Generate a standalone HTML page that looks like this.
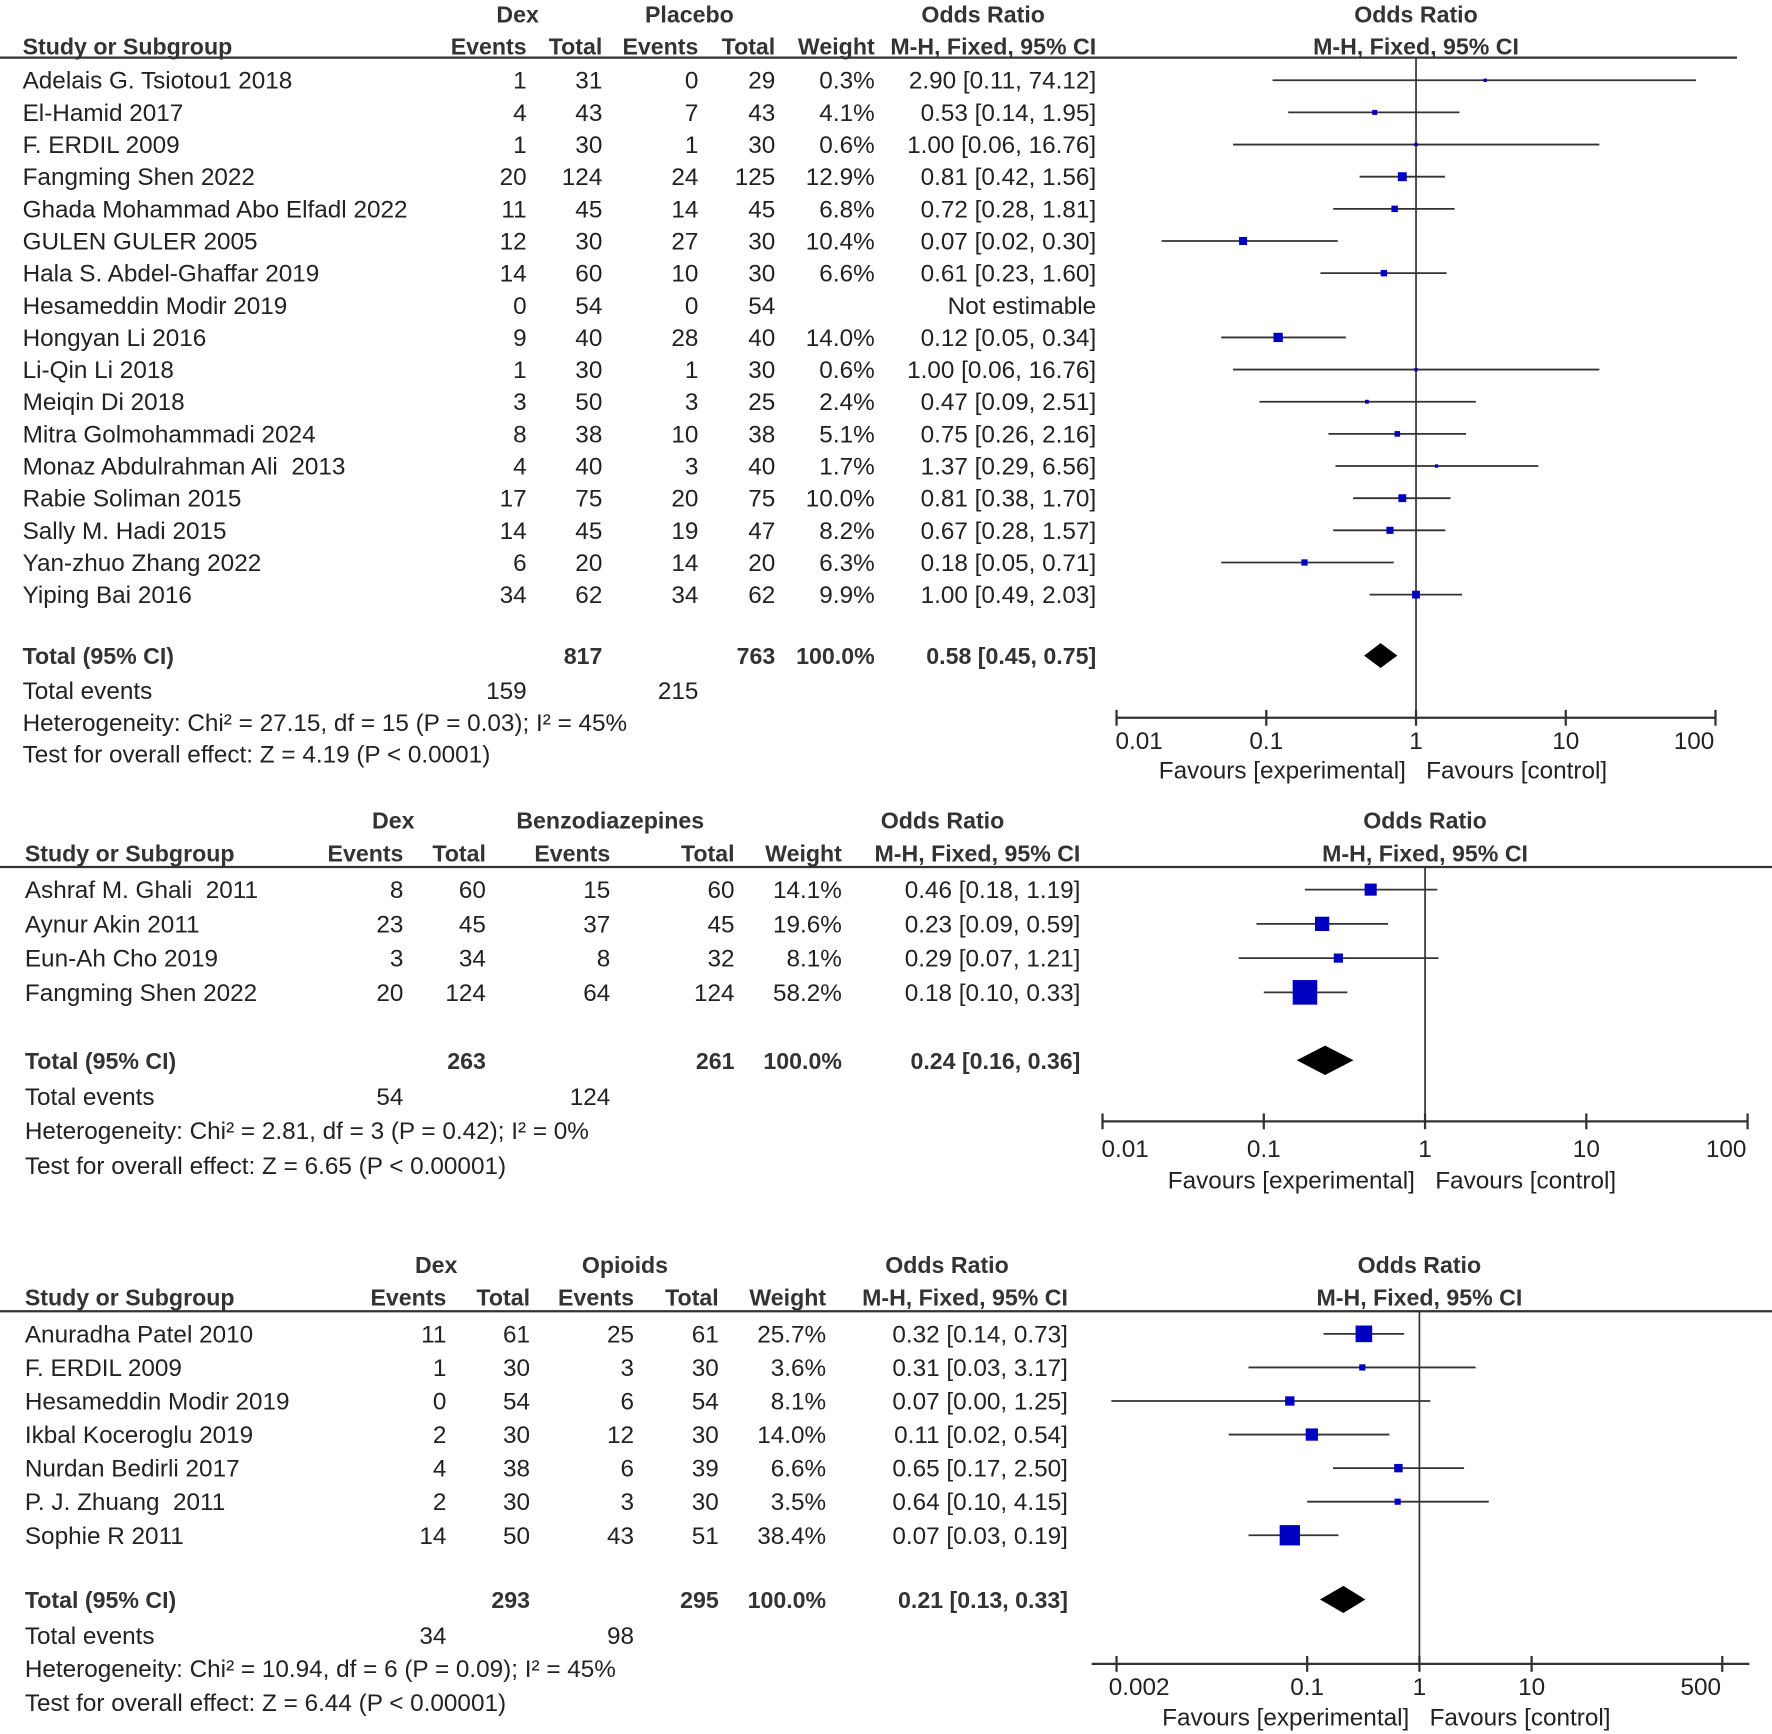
<!DOCTYPE html>
<html><head><meta charset="utf-8">
<style>
html,body{margin:0;padding:0;background:#fff;}
svg{display:block;}
text{font-family:"Liberation Sans",Arial,sans-serif;font-size:21.5px;fill:#222;white-space:pre;}
.b{font-weight:bold;fill:#333;font-size:20.5px;}
</style></head>
<body>
<svg id="chart" width="1772" height="1734" viewBox="0 0 1568 1534" preserveAspectRatio="none" xmlns="http://www.w3.org/2000/svg"></svg>
<script>
// ---- Panel 1: Dex vs Placebo ----
const p1Studies = ["Adelais G. Tsiotou1 2018","El-Hamid 2017","F. ERDIL 2009","Fangming Shen 2022","Ghada Mohammad Abo Elfadl 2022","GULEN GULER 2005","Hala S. Abdel-Ghaffar 2019","Hesameddin Modir 2019","Hongyan Li 2016","Li-Qin Li 2018","Meiqin Di 2018","Mitra Golmohammadi 2024","Monaz Abdulrahman Ali  2013","Rabie Soliman 2015","Sally M. Hadi 2015","Yan-zhuo Zhang 2022","Yiping Bai 2016"];
const p1DexEvents = [1,4,1,20,11,12,14,0,9,1,3,8,4,17,14,6,34];
const p1DexTotal = [31,43,30,124,45,30,60,54,40,30,50,38,40,75,45,20,62];
const p1CtlEvents = [0,7,1,24,14,27,10,0,28,1,3,10,3,20,19,14,34];
const p1CtlTotal = [29,43,30,125,45,30,30,54,40,30,25,38,40,75,47,20,62];
const p1Weight = [0.3,4.1,0.6,12.9,6.8,10.4,6.6,null,14.0,0.6,2.4,5.1,1.7,10.0,8.2,6.3,9.9];
const p1OR = [2.90,0.53,1.00,0.81,0.72,0.07,0.61,null,0.12,1.00,0.47,0.75,1.37,0.81,0.67,0.18,1.00];
const p1Lo = [0.11,0.14,0.06,0.42,0.28,0.02,0.23,null,0.05,0.06,0.09,0.26,0.29,0.38,0.28,0.05,0.49];
const p1Hi = [74.12,1.95,16.76,1.56,1.81,0.30,1.60,null,0.34,16.76,2.51,2.16,6.56,1.70,1.57,0.71,2.03];
const p1Total = [0.58,0.45,0.75];
const p1Ticks = [0.01,0.1,1,10,100];
const p1TickLabels = ["0.01","0.1","1","10","100"];

// ---- Panel 2: Dex vs Benzodiazepines ----
const p2Studies = ["Ashraf M. Ghali  2011","Aynur Akin 2011","Eun-Ah Cho 2019","Fangming Shen 2022"];
const p2DexEvents = [8,23,3,20];
const p2DexTotal = [60,45,34,124];
const p2CtlEvents = [15,37,8,64];
const p2CtlTotal = [60,45,32,124];
const p2Weight = [14.1,19.6,8.1,58.2];
const p2OR = [0.46,0.23,0.29,0.18];
const p2Lo = [0.18,0.09,0.07,0.10];
const p2Hi = [1.19,0.59,1.21,0.33];
const p2Total = [0.24,0.16,0.36];
const p2Ticks = [0.01,0.1,1,10,100];
const p2TickLabels = ["0.01","0.1","1","10","100"];

// ---- Panel 3: Dex vs Opioids ----
const p3Studies = ["Anuradha Patel 2010","F. ERDIL 2009","Hesameddin Modir 2019","Ikbal Koceroglu 2019","Nurdan Bedirli 2017","P. J. Zhuang  2011","Sophie R 2011"];
const p3DexEvents = [11,1,0,2,4,2,14];
const p3DexTotal = [61,30,54,30,38,30,50];
const p3CtlEvents = [25,3,6,12,6,3,43];
const p3CtlTotal = [61,30,54,30,39,30,51];
const p3Weight = [25.7,3.6,8.1,14.0,6.6,3.5,38.4];
const p3OR = [0.32,0.31,0.07,0.11,0.65,0.64,0.07];
const p3Lo = [0.14,0.03,0.00,0.02,0.17,0.10,0.03];
const p3Hi = [0.73,3.17,1.25,0.54,2.50,4.15,0.19];
const p3Total = [0.21,0.13,0.33];
const p3Ticks = [0.002,0.1,1,10,500];
const p3TickLabels = ["0.002","0.1","1","10","500"];

const NS = "http://www.w3.org/2000/svg";
const svg = document.getElementById("chart");
function mk(tag, attrs, parent){
  const e = document.createElementNS(NS, tag);
  for (const k in attrs) e.setAttribute(k, attrs[k]);
  (parent||svg).appendChild(e);
  return e;
}
function txt(s, x, y, anchor, cls, name){
  const t = mk("text", {x:x, y:y, "text-anchor":anchor||"start"});
  if (cls) t.setAttribute("class", cls);
  t.textContent = s;
  
  
  return t;
}
function fmtP(w){ return w==null ? "" : w.toFixed(1)+"%"; }
function fmtCI(o,l,h){ return o==null ? "Not estimable" : o.toFixed(2)+" ["+l.toFixed(2)+", "+h.toFixed(2)+"]"; }

function drawPanel(cfg, studies, de, dt, ce, ct, wt, orv, lo, hi, tot, ticks, tickLabels){
  const g = mk("g", {});
  
  
  const X = v => cfg.one + Math.log10(v) * cfg.dec;
  const c = cfg.cols;
  const off = 7.5;
  txt("Dex", cfg.h1[0], cfg.hy1, "middle", "b", "dex-group-header");
  txt(cfg.ctlName, cfg.h1[1], cfg.hy1, "middle", "b", "control-group-header");
  txt("Odds Ratio", cfg.h1[2], cfg.hy1, "middle", "b", "odds-ratio-header");
  txt("Odds Ratio", cfg.one, cfg.hy1, "middle", "b", "plot-odds-ratio-header");
  txt("Study or Subgroup", cfg.lx, cfg.hy2, "start", "b", "study-column-header");
  txt("Events", c[0], cfg.hy2, "end", "b", "dex-events-header");
  txt("Total", c[1], cfg.hy2, "end", "b", "dex-total-header");
  txt("Events", c[2], cfg.hy2, "end", "b", "control-events-header");
  txt("Total", c[3], cfg.hy2, "end", "b", "control-total-header");
  txt("Weight", c[4], cfg.hy2, "end", "b", "weight-header");
  txt("M-H, Fixed, 95% CI", c[5], cfg.hy2, "end", "b", "ci-header");
  txt("M-H, Fixed, 95% CI", cfg.one, cfg.hy2, "middle", "b", "plot-method-header");
  const hl = mk("line", {x1:0, x2:cfg.lineEnd, y1:cfg.lineY, y2:cfg.lineY, stroke:"#333", "stroke-width":2});
  
  
  const nl = mk("line", {x1:cfg.one, x2:cfg.one, y1:cfg.lineY, y2:cfg.axisY, stroke:"#333", "stroke-width":1.5});
  
  
  for (let i=0;i<studies.length;i++){
    const y = cfg.y0 + i*cfg.dy;
    const by = y + off;
    txt(studies[i], cfg.lx, by, "start", null, "study-name");
    txt(String(de[i]), c[0], by, "end", null, "dex-events");
    txt(String(dt[i]), c[1], by, "end", null, "dex-total");
    txt(String(ce[i]), c[2], by, "end", null, "control-events");
    txt(String(ct[i]), c[3], by, "end", null, "control-total");
    txt(fmtP(wt[i]), c[4], by, "end", null, "weight-value");
    txt(fmtCI(orv[i],lo[i],hi[i]), c[5], by, "end", null, "odds-ratio-ci");
    if (orv[i]!=null){
      const l = mk("line", {x1:X(Math.max(lo[i],ticks[0]*0.9)), x2:X(hi[i]), y1:y, y2:y, stroke:"#333", "stroke-width":1.6});
      
      
      const s = Math.max(3, cfg.k*Math.sqrt(wt[i]));
      const r = mk("rect", {x:X(orv[i])-s/2, y:y-s/2, width:s, height:s, fill:"#0000c0"});
      
      
    }
  }
  const ty = cfg.ty;
  txt("Total (95% CI)", cfg.lx, ty+off, "start", "b", "total-label");
  txt(String(dt.reduce((a,b)=>a+b,0)), c[1], ty+off, "end", "b", "dex-total-sum");
  txt(String(ct.reduce((a,b)=>a+b,0)), c[3], ty+off, "end", "b", "control-total-sum");
  txt("100.0%", c[4], ty+off, "end", "b", "total-weight");
  txt(fmtCI(tot[0],tot[1],tot[2]), c[5], ty+off, "end", "b", "pooled-odds-ratio");
  const d = mk("polygon", {points:[X(tot[1])+","+ty, X(tot[0])+","+(ty-cfg.dh), X(tot[2])+","+ty, X(tot[0])+","+(ty+cfg.dh)].join(" "), fill:"#000"});
  
  
  txt("Total events", cfg.lx, cfg.ey+off, "start", null, "total-events-label");
  txt(String(de.reduce((a,b)=>a+b,0)), c[0], cfg.ey+off, "end", null, "dex-total-events");
  txt(String(ce.reduce((a,b)=>a+b,0)), c[2], cfg.ey+off, "end", null, "control-total-events");
  txt(cfg.het, cfg.lx, cfg.hety+off, "start", null, "heterogeneity-stat");
  txt(cfg.test, cfg.lx, cfg.testy+off, "start", null, "overall-effect-test");
  const ax = mk("line", {x1:cfg.axL, x2:cfg.axR, y1:cfg.axisY, y2:cfg.axisY, stroke:"#333", "stroke-width":2});
  
  
  for (let i=0;i<ticks.length;i++){
    const x = X(ticks[i]);
    const t = mk("line", {x1:x, x2:x, y1:cfg.axisY-7, y2:cfg.axisY+7, stroke:"#333", "stroke-width":2});
    
    
    let lx = x;
    if (i===0) lx = x + 20;
    if (i===ticks.length-1) lx = x - 19;
    txt(tickLabels[i], lx, cfg.tly+off, "middle", null, "x-tick-label");
  }
  txt("Favours [experimental]", cfg.one-9, cfg.fy+off, "end", null, "favours-experimental-label");
  txt("Favours [control]", cfg.one+9, cfg.fy+off, "start", null, "favours-control-label");
}

drawPanel({name:"placebo-comparison-panel", ctlName:"Placebo", lx:20, cols:[466,533,618,686,774,970], h1:[458,610,870],
  hy1:20, hy2:48, lineY:51, lineEnd:1537, y0:71, dy:28.44, ty:580, ey:611, hety:639, testy:667,
  one:1253, dec:132.5, axisY:635, axL:988, axR:1518, tly:655, fy:681, k:2.2, dh:11,
  het:"Heterogeneity: Chi\u00b2 = 27.15, df = 15 (P = 0.03); I\u00b2 = 45%",
  test:"Test for overall effect: Z = 4.19 (P < 0.0001)"},
  p1Studies,p1DexEvents,p1DexTotal,p1CtlEvents,p1CtlTotal,p1Weight,p1OR,p1Lo,p1Hi,p1Total,p1Ticks,p1TickLabels);

drawPanel({name:"benzodiazepine-comparison-panel", ctlName:"Benzodiazepines", lx:22, cols:[357,430,540,650,745,956], h1:[348,540,834],
  hy1:733, hy2:762, lineY:767, lineEnd:1568, y0:787, dy:30.3, ty:938, ey:970, hety:1000, testy:1031,
  one:1261, dec:142.7, axisY:992, axL:976, axR:1547, tly:1016, fy:1044, k:2.85, dh:13,
  het:"Heterogeneity: Chi\u00b2 = 2.81, df = 3 (P = 0.42); I\u00b2 = 0%",
  test:"Test for overall effect: Z = 6.65 (P < 0.00001)"},
  p2Studies,p2DexEvents,p2DexTotal,p2CtlEvents,p2CtlTotal,p2Weight,p2OR,p2Lo,p2Hi,p2Total,p2Ticks,p2TickLabels);

drawPanel({name:"opioid-comparison-panel", ctlName:"Opioids", lx:22, cols:[395,469,561,636,731,945], h1:[386,553,838],
  hy1:1126, hy2:1155, lineY:1160, lineEnd:1568, y0:1180, dy:29.7, ty:1415, ey:1447, hety:1476, testy:1506,
  one:1256, dec:99.3, axisY:1472, axL:966, axR:1548, tly:1492, fy:1519, k:2.9, dh:12,
  het:"Heterogeneity: Chi\u00b2 = 10.94, df = 6 (P = 0.09); I\u00b2 = 45%",
  test:"Test for overall effect: Z = 6.44 (P < 0.00001)"},
  p3Studies,p3DexEvents,p3DexTotal,p3CtlEvents,p3CtlTotal,p3Weight,p3OR,p3Lo,p3Hi,p3Total,p3Ticks,p3TickLabels);
</script>
</body></html>
